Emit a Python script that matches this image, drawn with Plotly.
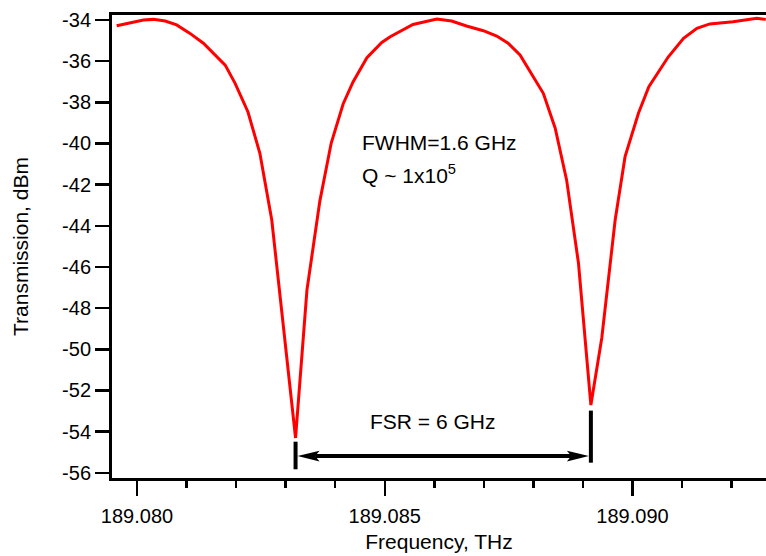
import numpy as np
import plotly.graph_objects as go

# ---- data ----
freq_thz = [
    189.07959, 189.08013, 189.08033, 189.08057, 189.08080, 189.08107, 189.08134,
    189.08154, 189.08178, 189.08198, 189.08224, 189.08248, 189.08272, 189.08320,
    189.08343, 189.08369, 189.08392, 189.08416, 189.08436, 189.08464, 189.08494,
    189.08511, 189.08557, 189.08605, 189.08635, 189.08665, 189.08699, 189.08726,
    189.08749, 189.08773, 189.08797, 189.08820, 189.08844, 189.08867, 189.08891,
    189.08916, 189.08938, 189.08965, 189.08985, 189.09012, 189.09033, 189.09072,
    189.09103, 189.09130, 189.09156, 189.09203, 189.09251, 189.09269,
]
transmission_dbm = [
    -34.28, -34.00, -33.97, -34.05, -34.24, -34.65, -35.13,
    -35.59, -36.19, -37.08, -38.47, -40.48, -43.72, -54.31,
    -47.12, -42.80, -39.98, -38.08, -37.01, -35.83, -35.09,
    -34.81, -34.22, -33.95, -34.05, -34.29, -34.52, -34.78,
    -35.13, -35.70, -36.67, -37.56, -39.26, -41.77, -45.82,
    -52.71, -49.45, -43.72, -40.64, -38.53, -37.24, -35.80,
    -34.89, -34.40, -34.19, -34.08, -33.92, -33.97,
]

x_tick_vals = [189.080, 189.085, 189.090]
x_tick_text = ["189.080", "189.085", "189.090"]
y_tick_vals = [-56, -54, -52, -50, -48, -46, -44, -42, -40, -38, -36, -34]
y_tick_text = ["-56", "-54", "-52", "-50", "-48", "-46", "-44", "-42", "-40", "-38", "-36", "-34"]

x_title = "Frequency, THz"
y_title = "Transmission, dBm"
fwhm_text = "FWHM=1.6 GHz"
q_text = "Q ~ 1x10<sup>5</sup>"
fsr_text = "FSR = 6 GHz"

# ---- figure ----
FONT = "Liberation Sans, Arial, Helvetica, sans-serif"
f = np.array(freq_thz)
t = np.array(transmission_dbm)
mid = len(f) // 2 + 5
i1 = int(np.argmin(t[:mid]))
i2 = mid + int(np.argmin(t[mid:]))
xL, xR = f[i1], f[i2]

fig = go.Figure()
fig.add_trace(go.Scatter(x=freq_thz, y=transmission_dbm, mode="lines",
                         line=dict(color="#ff0000", width=3), showlegend=False,
                         hoverinfo="skip"))

px_x = 0.001 / 49.55   # THz per pixel
px_y = 1 / 20.58       # dB per pixel
y_arrow = -55.19
head_len = 22 * px_x
head_hw = 5.3 * px_y
tip_off = 2 * px_x

shapes = [
    dict(type="line", x0=xL, x1=xL, y0=-54.49, y1=-55.83, line=dict(color="black", width=4)),
    dict(type="line", x0=xR, x1=xR, y0=-52.98, y1=-55.51, line=dict(color="black", width=4)),
    dict(type="line", x0=xL + tip_off + head_len * 0.8, x1=xR - tip_off - head_len * 0.8,
         y0=y_arrow, y1=y_arrow, line=dict(color="black", width=4)),
]
lt = xL + tip_off
rt = xR - tip_off
shapes.append(dict(type="path",
                   path=f"M {lt},{y_arrow} L {lt + head_len},{y_arrow + head_hw} "
                        f"L {lt + head_len * 0.8},{y_arrow} L {lt + head_len},{y_arrow - head_hw} Z",
                   fillcolor="black", line=dict(width=0)))
shapes.append(dict(type="path",
                   path=f"M {rt},{y_arrow} L {rt - head_len},{y_arrow + head_hw} "
                        f"L {rt - head_len * 0.8},{y_arrow} L {rt - head_len},{y_arrow - head_hw} Z",
                   fillcolor="black", line=dict(width=0)))

ann_x = 189.084555 - 3 * px_x
annotations = [
    dict(x=ann_x, y=-40.06 + 2.5 * px_y, text=fwhm_text, showarrow=False, xanchor="left",
         yanchor="middle", font=dict(size=21, color="black", family=FONT)),
    dict(x=ann_x, y=-41.60 + 2.5 * px_y, text=q_text, showarrow=False, xanchor="left",
         yanchor="middle", font=dict(size=21, color="black", family=FONT)),
    dict(x=189.084716 - 3 * px_x, y=-53.50, text=fsr_text, showarrow=False, xanchor="left",
         yanchor="middle", font=dict(size=21, color="black", family=FONT)),
]

axis_common = dict(showline=True, linewidth=3, linecolor="black", showgrid=False,
                   zeroline=False, ticks="outside", tickwidth=2.5, tickcolor="black",
                   automargin=False,
                   tickfont=dict(size=20, color="black", family=FONT))

fig.update_layout(
    width=766, height=556,
    margin=dict(l=112, r=0, t=15, b=78, pad=0),
    paper_bgcolor="white", plot_bgcolor="white",
    font=dict(family=FONT, size=20, color="black"),
    shapes=shapes, annotations=annotations,
    xaxis=dict(range=[189.0794955, 189.0926943], tickvals=x_tick_vals, ticktext=x_tick_text,
               ticklen=15, mirror=True, ticklabelstandoff=3,
               minor=dict(dtick=0.001, tick0=189.080, ticks="outside", ticklen=7,
                          tickwidth=2.5, tickcolor="black", showgrid=False),
               title=dict(text=x_title, font=dict(size=21, family=FONT), standoff=9),
               **axis_common),
    yaxis=dict(range=[-56.254, -33.757], tickvals=y_tick_vals, ticktext=y_tick_text,
               ticklen=14,
               title=dict(text=y_title, font=dict(size=21, family=FONT), standoff=28),
               **axis_common),
)

fig.write_html("out.html",
               config={"displayModeBar": False, "staticPlot": True},
               post_script="document.body.style.margin='0px';"
                           "document.body.style.overflow='hidden';")
